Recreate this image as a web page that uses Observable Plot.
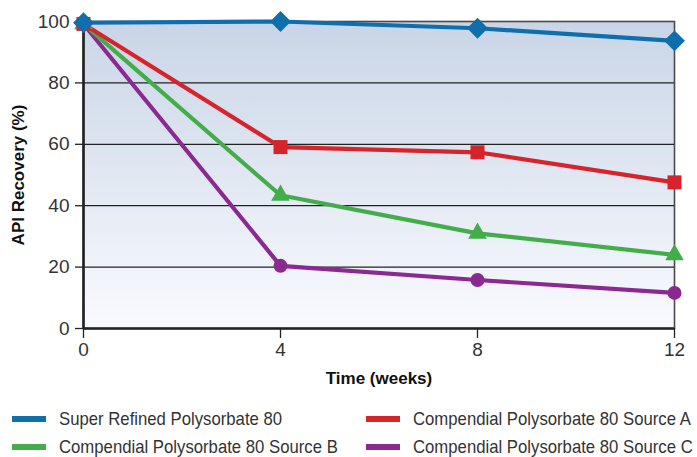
<!DOCTYPE html>
<html>
<head>
<meta charset="utf-8">
<script src="https://cdn.jsdelivr.net/npm/d3@7"></script>
<script src="https://cdn.jsdelivr.net/npm/@observablehq/plot@0.6"></script>
<style>
  html, body { margin: 0; padding: 0; background: #fff; }
  body { width: 697px; height: 457px; overflow: hidden; font-family: "Liberation Sans", Arial, sans-serif; }
  #chart svg { display: block; }
  .legend { position: relative; height: 62px; font-size: 19px; color: #333; }
  .legend .item { position: absolute; display: flex; align-items: center; white-space: nowrap; }
  .legend .sw { width: 34px; height: 6px; margin-right: 13px; flex: none; }
  .legend .txt { display: inline-block; transform: scaleX(0.88); transform-origin: left center; }
</style>
</head>
<body>
<div id="chart"></div>
<div class="legend" id="legend"></div>
<script>
// Recovery of the API over time for each polysorbate 80 grade
const weeks = [0, 4, 8, 12];
const seriesNames = [
  "Super Refined Polysorbate 80",
  "Compendial Polysorbate 80 Source A",
  "Compendial Polysorbate 80 Source B",
  "Compendial Polysorbate 80 Source C"
];
const superRefined = [99.6, 100, 97.8, 93.7];
const sourceA = [99.2, 59.1, 57.4, 47.6];
const sourceB = [99.2, 43.4, 31.0, 24.0];
const sourceC = [99.2, 20.4, 15.8, 11.6];
const seriesColors = ["#0f6fad", "#d7242c", "#43ad4a", "#8b2990"];
const seriesSymbols = ["diamond2", "square", "triangle", "circle"];
const seriesRadius = [9.4, 7.9, 6.9, 7];
const yTicks = [0, 20, 40, 60, 80, 100];
const xTicks = [0, 4, 8, 12];

const values = [superRefined, sourceA, sourceB, sourceC];
const rows = values.flatMap((vals, i) =>
  vals.map((v, j) => ({series: seriesNames[i], week: weeks[j], recovery: v, idx: i}))
);
// draw purple first so the blue series ends up on top
const order = [3, 2, 1, 0];

const font = "'Liberation Sans', Arial, sans-serif";

const marks = [
  Plot.frame({fill: "url(#plotBg)", stroke: "#4a4a4a", strokeWidth: 1.6}),
  Plot.gridY([20, 40, 60, 80], {stroke: "#222", strokeOpacity: 1, strokeWidth: 1.3}),
  Plot.axisY({ticks: yTicks, tickSize: 8, tickPadding: 6, label: null, fontSize: 19, fill: "#333", stroke: "#222", strokeWidth: 1.3}),
  Plot.axisX({ticks: xTicks, tickSize: 10, tickPadding: 4, label: null, fontSize: 19, fill: "#333", stroke: "#222", strokeWidth: 1.3}),
  Plot.ruleX([0], {stroke: "#222", strokeWidth: 2.6}),
  Plot.ruleY([0], {stroke: "#222", strokeWidth: 2.6}),
  Plot.text(["API Recovery (%)"], {frameAnchor: "left", textAnchor: "middle", lineAnchor: "middle", dx: -65, rotate: -90, fontSize: 17, fontWeight: "bold", fill: "#111"}),
  Plot.text(["Time (weeks)"], {frameAnchor: "bottom", textAnchor: "middle", lineAnchor: "middle", dy: 50, fontSize: 17, fontWeight: "bold", fill: "#111"})
];

for (const i of order) {
  const data = rows.filter(d => d.idx === i);
  marks.push(Plot.line(data, {x: "week", y: "recovery", stroke: seriesColors[i], strokeWidth: 4.2}));
}
for (const i of order) {
  const data = rows.filter(d => d.idx === i);
  marks.push(Plot.dot(data, {x: "week", y: "recovery", fill: seriesColors[i], symbol: seriesSymbols[i], r: seriesRadius[i], stroke: "none"}));
}

const chart = Plot.plot({
  width: 697,
  height: 395,
  marginLeft: 83,
  marginRight: 23,
  marginTop: 21,
  marginBottom: 67,
  style: {fontFamily: font, fontSize: "19px", background: "transparent", overflow: "visible"},
  x: {domain: [0, 12]},
  y: {domain: [0, 100]},
  marks
});

// vertical gradient behind the plot area
const ns = "http://www.w3.org/2000/svg";
const defs = document.createElementNS(ns, "defs");
const grad = document.createElementNS(ns, "linearGradient");
grad.setAttribute("id", "plotBg");
grad.setAttribute("x1", "0"); grad.setAttribute("y1", "0");
grad.setAttribute("x2", "0"); grad.setAttribute("y2", "1");
[["0", "#c9d5e7"], ["1", "#f9fafe"]].forEach(([o, c]) => {
  const s = document.createElementNS(ns, "stop");
  s.setAttribute("offset", o);
  s.setAttribute("stop-color", c);
  grad.appendChild(s);
});
defs.appendChild(grad);
chart.insertBefore(defs, chart.firstChild);
document.getElementById("chart").appendChild(chart);

// two-column legend under the chart
const legend = document.getElementById("legend");
const legendPos = [[12, 13], [366, 13], [12, 41], [366, 41]];
[0, 1, 2, 3].forEach((i, k) => {
  const item = document.createElement("div");
  item.className = "item";
  item.style.left = legendPos[k][0] + "px";
  item.style.top = legendPos[k][1] + "px";
  const sw = document.createElement("span");
  sw.className = "sw";
  sw.style.background = seriesColors[i];
  const label = document.createElement("span");
  label.className = "txt";
  label.textContent = seriesNames[i];
  item.appendChild(sw);
  item.appendChild(label);
  legend.appendChild(item);
});
</script>
</body>
</html>
